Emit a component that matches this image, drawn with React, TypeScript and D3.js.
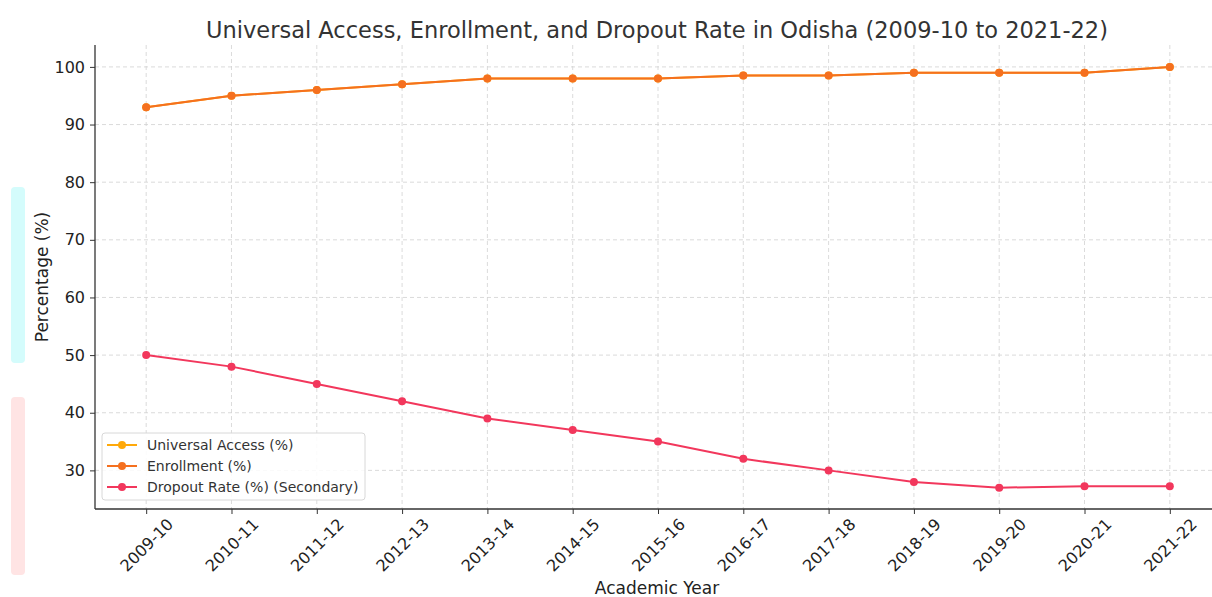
import React, { useEffect, useRef } from "react";
import * as d3 from "d3";

const width = 1212;
const height = 597;
const margin = { top: 45, right: -9, bottom: 88, left: 95 };

const years = [
  "2009-10", "2010-11", "2011-12", "2012-13", "2013-14", "2014-15", "2015-16",
  "2016-17", "2017-18", "2018-19", "2019-20", "2020-21", "2021-22",
];
const universalAccess = [93, 95, 96, 97, 98, 98, 98, 98.5, 98.5, 99, 99, 99, 100];
const enrollment = [93, 95, 96, 97, 98, 98, 98, 98.5, 98.5, 99, 99, 99, 100];
const dropoutRate = [50, 48, 45, 42, 39, 37, 35, 32, 30, 28, 27, 27.25, 27.25];
const yTicks = [30, 40, 50, 60, 70, 80, 90, 100];

const series = [
  { name: "Universal Access (%)", values: universalAccess, color: "#ffa90a" },
  { name: "Enrollment (%)", values: enrollment, color: "#f5701f" },
  { name: "Dropout Rate (%) (Secondary)", values: dropoutRate, color: "#f2375c" },
];

const font = "DejaVu Sans, sans-serif";

export default function App() {
  const ref = useRef<SVGSVGElement>(null);

  useEffect(() => {
    const svg = d3.select(ref.current);
    svg.selectAll("*").remove();

    const n = years.length;
    const x = d3
      .scaleLinear()
      .domain([-0.6, n - 1 + 0.6])
      .range([margin.left, width - margin.right]);
    const y = d3
      .scaleLinear()
      .domain([23.3, 103.8])
      .range([height - margin.bottom, margin.top]);

    // odd faded strips on the left edge
    svg.append("rect").attr("x", 11).attr("y", 187).attr("width", 14).attr("height", 176)
      .attr("rx", 4).attr("fill", "#d4fcfc");
    svg.append("rect").attr("x", 11).attr("y", 397).attr("width", 14).attr("height", 178)
      .attr("rx", 4).attr("fill", "#ffe4e4");

    // grid
    const grid = svg.append("g").attr("stroke", "#d2d2d2").attr("stroke-dasharray", "4,3").attr("stroke-width", 0.8);
    grid.selectAll("line.h").data(yTicks).join("line").attr("class", "h")
      .attr("x1", margin.left).attr("x2", width)
      .attr("y1", d => y(d)).attr("y2", d => y(d));
    grid.selectAll("line.v").data(years).join("line").attr("class", "v")
      .attr("x1", (_, i) => x(i)).attr("x2", (_, i) => x(i))
      .attr("y1", margin.top).attr("y2", height - margin.bottom);

    // axes
    const yAxis = svg.append("g")
      .attr("transform", `translate(${margin.left},0)`)
      .call(d3.axisLeft(y).tickValues(yTicks).tickSize(5).tickPadding(5));
    yAxis.select(".domain").attr("stroke", "#333").attr("stroke-width", 1.3)
      .attr("d", `M0,${margin.top}V${height - margin.bottom}`);
    yAxis.selectAll(".tick line").attr("stroke", "#333");
    yAxis.selectAll(".tick text").attr("font-family", font).attr("font-size", 16).attr("fill", "#222");

    const xAxis = svg.append("g")
      .attr("transform", `translate(0,${height - margin.bottom})`)
      .call(d3.axisBottom(x).tickValues(d3.range(n)).tickFormat(i => years[i as number]).tickSize(5));
    xAxis.select(".domain").attr("stroke", "#333").attr("stroke-width", 1.3)
      .attr("d", `M${margin.left},0H${width}`);
    xAxis.selectAll(".tick line").attr("stroke", "#333");
    xAxis.selectAll(".tick text")
      .attr("font-family", font).attr("font-size", 16).attr("fill", "#222")
      .attr("text-anchor", "middle")
      .attr("y", 0).attr("dy", "0.35em")
      .attr("transform", "translate(0,36) rotate(-45)");

    // lines
    const line = d3.line<number>().x((_, i) => x(i)).y(d => y(d));
    series.forEach(s => {
      const g = svg.append("g");
      g.append("path").attr("d", line(s.values)).attr("fill", "none")
        .attr("stroke", s.color).attr("stroke-width", 2);
      g.selectAll("circle").data(s.values).join("circle")
        .attr("cx", (_, i) => x(i)).attr("cy", d => y(d)).attr("r", 4).attr("fill", s.color);
    });

    // title & labels
    svg.append("text").attr("x", 657).attr("y", 38).attr("text-anchor", "middle")
      .attr("font-family", font).attr("font-size", 22.5).attr("fill", "#333")
      .text("Universal Access, Enrollment, and Dropout Rate in Odisha (2009-10 to 2021-22)");
    svg.append("text").attr("x", 657).attr("y", 594).attr("text-anchor", "middle")
      .attr("font-family", font).attr("font-size", 17).attr("fill", "#222").text("Academic Year");
    svg.append("text").attr("transform", `translate(48,${(margin.top + height - margin.bottom) / 2}) rotate(-90)`)
      .attr("text-anchor", "middle").attr("font-family", font).attr("font-size", 17).attr("fill", "#222")
      .text("Percentage (%)");

    // legend
    const lg = svg.append("g").attr("transform", "translate(102,433)");
    lg.append("rect").attr("width", 263).attr("height", 67).attr("rx", 3)
      .attr("fill", "white").attr("fill-opacity", 0.85).attr("stroke", "#d8d8d8");
    series.forEach((s, i) => {
      const row = lg.append("g").attr("transform", `translate(0,${12 + i * 21})`);
      row.append("line").attr("x1", 5).attr("x2", 35).attr("stroke", s.color).attr("stroke-width", 2);
      row.append("circle").attr("cx", 20).attr("r", 4).attr("fill", s.color);
      row.append("text").attr("x", 45).attr("dy", "0.35em").attr("font-family", font)
        .attr("font-size", 14).attr("fill", "#333").text(s.name);
    });
  }, []);

  return (
    <svg ref={ref} width={width} height={height}
      style={{ position: "absolute", left: 0, top: 0, background: "white" }} />
  );
}
